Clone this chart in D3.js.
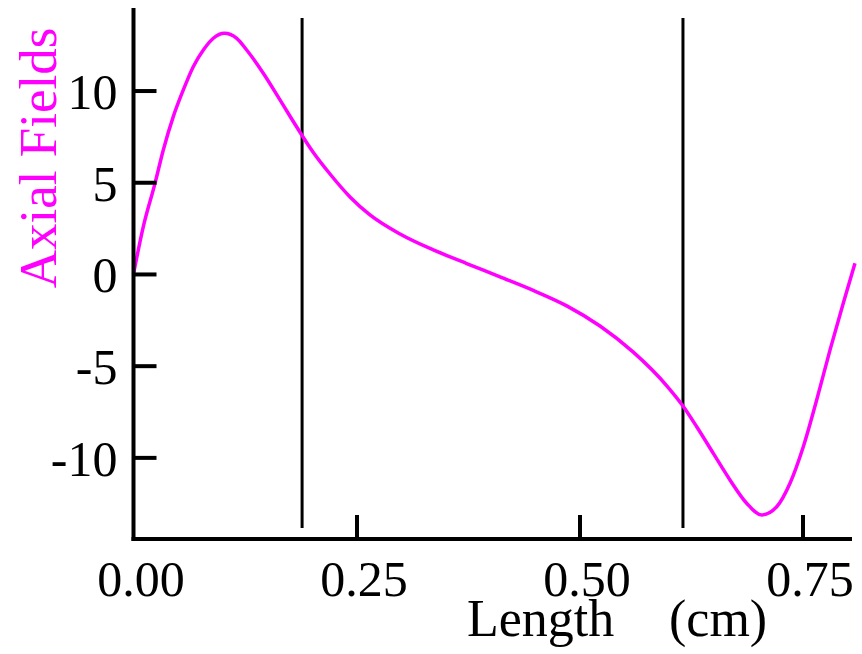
<!DOCTYPE html>
<html><head><meta charset="utf-8">
<script src="https://cdn.jsdelivr.net/npm/d3@7"></script>
<style>
html,body{margin:0;padding:0;background:#fff;}
svg{display:block;}
text{font-family:"Liberation Serif","Times New Roman",serif;}
</style></head>
<body>
<svg id="chart" width="862" height="654"></svg>
<script>
// Data
const xVals = [0, 0.0110, 0.0241, 0.0334, 0.0446, 0.0558, 0.0670, 0.0783, 0.0895, 0.1018, 0.1157, 0.1269, 0.1455, 0.1642, 0.1830, 0.2012, 0.2203, 0.2427, 0.2651, 0.2988, 0.3361, 0.3735, 0.4109, 0.4482, 0.4857, 0.5230, 0.5600, 0.5981, 0.6160, 0.6314, 0.6500, 0.6687, 0.6874, 0.7043, 0.7211, 0.7360, 0.7509, 0.7659, 0.7809, 0.7957, 0.8088];
const fieldVals = [0, 2.58, 4.94, 6.76, 8.58, 10.03, 11.30, 12.21, 12.85, 13.12, 12.85, 12.21, 10.94, 9.49, 8.01, 6.65, 5.45, 4.20, 3.22, 2.18, 1.31, 0.57, -0.16, -0.90, -1.74, -2.84, -4.25, -6.11, -7.20, -8.33, -9.78, -11.23, -12.50, -13.14, -12.69, -11.41, -9.42, -6.87, -4.14, -1.60, 0.58];
const markerX = [0.189, 0.616];
const markerY = [-13.85, 13.96];
const xTicks = [0, 0.25, 0.5, 0.75];
const xTickLabels = ["0.00", "0.25", "0.50", "0.75"];
const yTicks = [-10, -5, 0, 5, 10];
const yTickLabels = ["-10", "-5", "0", "5", "10"];
const xDomain = [0, 0.8055];
const yDomain = [-14.45, 14.5];

const svg = d3.select("#chart");
const x = d3.scaleLinear().domain(xDomain).range([133.5, 852]);
const y = d3.scaleLinear().domain(yDomain).range([539, 8]);

// vertical marker lines
svg.selectAll("line.marker").data(markerX).enter().append("line")
  .attr("class","marker")
  .attr("x1", d => x(d)).attr("x2", d => x(d))
  .attr("y1", y(markerY[0])).attr("y2", y(markerY[1]))
  .attr("stroke","#000").attr("stroke-width",3);

// curve
const pts = xVals.map((v,i)=>[v, fieldVals[i]]);
svg.append("path").datum(pts)
  .attr("fill","none").attr("stroke","#ff00ff").attr("stroke-width",3.5)
  .attr("stroke-linejoin","round")
  .attr("d", d3.line().x(d=>x(d[0])).y(d=>y(d[1])).curve(d3.curveMonotoneX));

// x axis
const xAxis = d3.axisBottom(x).tickValues(xTicks).tickSizeInner(-24).tickSizeOuter(0)
  .tickFormat((d,i)=>xTickLabels[i]).tickPadding(0);
const gx = svg.append("g").attr("transform","translate(0,539)").call(xAxis);
gx.select(".domain").attr("stroke","#000").attr("stroke-width",4).attr("d","M131.5,0H852");
gx.selectAll(".tick line").attr("stroke","#000").attr("stroke-width",4)
  .attr("display",(d)=> d===0 ? "none" : null);
gx.selectAll(".tick text").attr("font-size",50).attr("fill","#000")
  .attr("x",7).attr("y",57).attr("dy",null)
  .attr("font-family","'Liberation Serif',serif");

// y axis
const yAxis = d3.axisLeft(y).tickValues(yTicks).tickSizeInner(-23).tickSizeOuter(0)
  .tickFormat((d,i)=>yTickLabels[i]).tickPadding(0);
const gy = svg.append("g").attr("transform","translate(133.5,0)").call(yAxis);
gy.select(".domain").attr("stroke","#000").attr("stroke-width",4).attr("d","M0,8V541");
gy.selectAll(".tick line").attr("stroke","#000").attr("stroke-width",4);
gy.selectAll(".tick text").attr("font-size",50).attr("fill","#000")
  .attr("x",-16).attr("dy",null).attr("y",18)
  .attr("font-family","'Liberation Serif',serif");

// x title
const xt = svg.append("text").attr("y",636).attr("font-size",52).attr("fill","#000");
xt.append("tspan").attr("x",467).text("Length");
xt.append("tspan").attr("x",669).text("(cm)");

// y title
svg.append("text")
  .attr("transform","translate(56,158) rotate(-90)")
  .attr("text-anchor","middle")
  .attr("font-size",53).attr("fill","#ff00ff")
  .text("Axial Fields");
</script>
</body></html>
